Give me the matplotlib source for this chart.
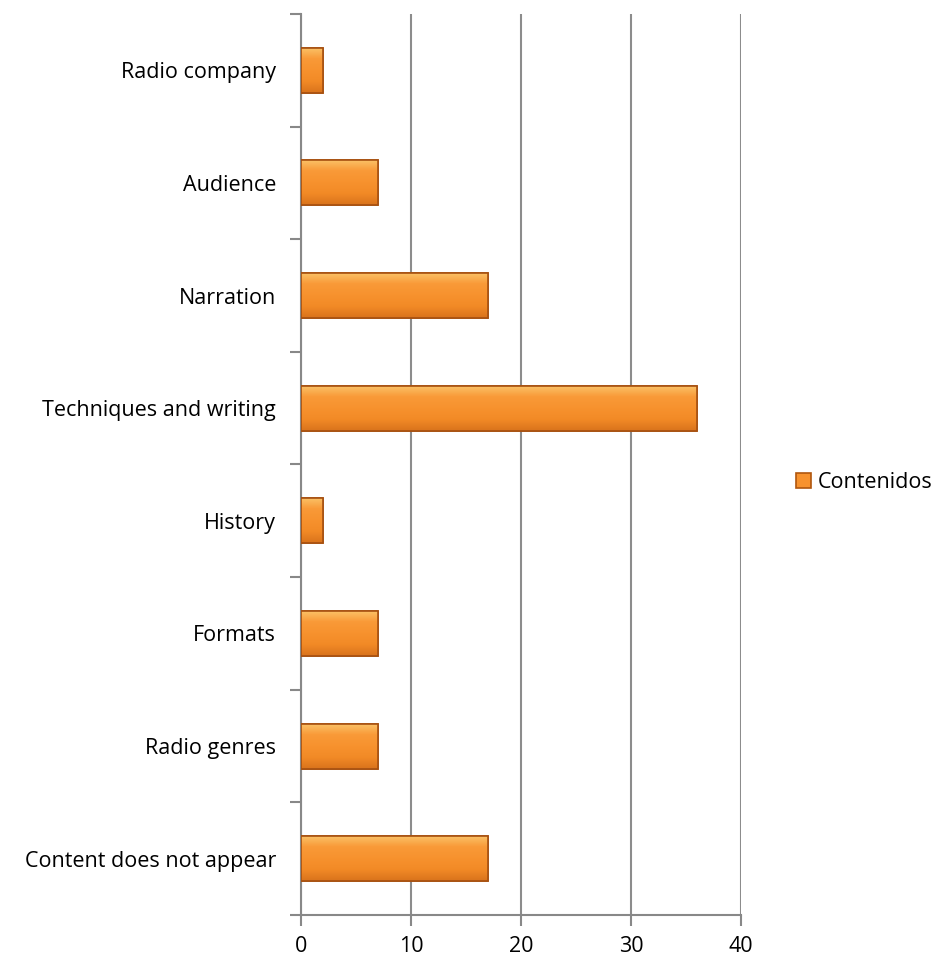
import matplotlib.pyplot as plt
import numpy as np
from matplotlib.colors import LinearSegmentedColormap

categorias = ["Content does not appear", "Radio genres", "Formats", "History",
              "Techniques and writing", "Narration", "Audience", "Radio company"]
valores = [17, 7, 7, 2, 36, 17, 7, 2]
serie = "Contenidos"
ticks_x = [0, 10, 20, 30, 40]

plt.rcParams['font.family'] = ['Open Sans', 'DejaVu Sans']

fig = plt.figure(figsize=(9.38, 9.56), dpi=100)
ax = fig.add_axes([0.321, 0.0429, 0.469, 0.9425])

y = np.arange(len(categorias))
barras = ax.barh(y, valores, height=0.4, color='#F7922E', edgecolor='#B0560E',
                 linewidth=1.2, label=serie, zorder=3)

# efecto de relieve: degradado vertical recortado a cada barra
grad = np.linspace(0, 1, 100).reshape(-1, 1)
cmap = LinearSegmentedColormap.from_list('bev', ['#FBC46A', '#F99A38', '#F7922E', '#F28A26', '#D9731C'])
for b in barras:
    x0, y0 = b.get_x(), b.get_y()
    w, h = b.get_width(), b.get_height()
    im = ax.imshow(grad, aspect='auto', cmap=cmap, extent=[x0, x0 + w, y0, y0 + h],
                   origin='upper', zorder=3.5)
    im.set_clip_path(b)
    ax.add_patch(plt.Rectangle((x0, y0), w, h, fill=False, edgecolor='#A65010',
                               linewidth=1.2, zorder=4))

ax.set_xlim(0, 40)
ax.set_ylim(-0.5, len(categorias) - 0.5)
ax.set_xticks(ticks_x)
ax.set_xticklabels([str(t) for t in ticks_x], fontsize=15.5)
ax.set_yticks(y)
ax.set_yticklabels(categorias, fontsize=15.5)
ax.tick_params(axis='y', length=0, pad=18)
ax.set_yticks(np.arange(-0.5, len(categorias), 1), minor=True)
ax.tick_params(axis='y', which='minor', length=8, color='#888888', width=1.5)
ax.tick_params(axis='x', length=8, color='#888888', width=1.5, pad=7)

ax.grid(axis='x', color='#8C8C8C', linewidth=1.5, zorder=0)
for s in ['top', 'right']:
    ax.spines[s].set_visible(False)
for s in ['left', 'bottom']:
    ax.spines[s].set_color('#888888')
    ax.spines[s].set_linewidth(1.5)

fig.legend(handles=[barras], labels=[serie], loc='center left',
           bbox_to_anchor=(0.849, 0.495), frameon=False, fontsize=15.5,
           handlelength=0.7, handleheight=0.7, handletextpad=0.3,
           borderaxespad=0, borderpad=0)

fig.savefig('out.png', dpi=100)
